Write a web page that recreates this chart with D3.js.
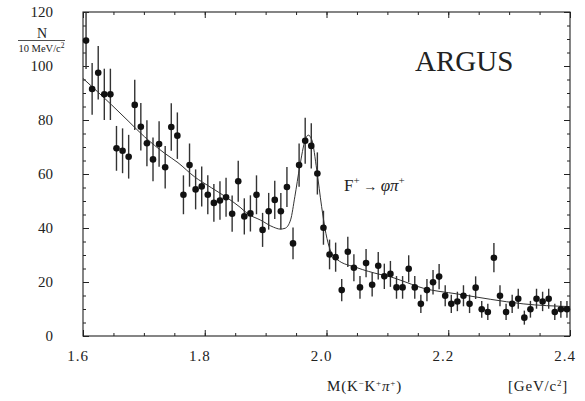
<!DOCTYPE html>
<html><head><meta charset="utf-8">
<script src="https://cdn.jsdelivr.net/npm/d3@7/dist/d3.min.js"></script>
<style>body{margin:0;background:#fff}svg{display:block}</style>
</head><body><svg id="c" width="585" height="401"></svg>
<script>
const mass = [1.605,1.615,1.625,1.635,1.645,1.655,1.665,1.675,1.685,1.695,
1.705,1.715,1.725,1.735,1.745,1.755,1.765,1.775,1.785,1.795,
1.805,1.815,1.825,1.835,1.845,1.855,1.865,1.875,1.885,1.895,
1.905,1.915,1.925,1.935,1.945,1.955,1.965,1.975,1.985,1.995,
2.005,2.015,2.025,2.035,2.045,2.055,2.065,2.075,2.085,2.095,
2.105,2.115,2.125,2.135,2.145,2.155,2.165,2.175,2.185,2.195,
2.205,2.215,2.225,2.235,2.245,2.255,2.265,2.275,2.285,2.295,
2.305,2.315,2.325,2.335,2.345,2.355,2.365,2.375,2.385,2.395];
const counts = [109.4,91.5,97.5,89.5,89.5,69.5,68.6,66.4,85.6,77.5,
71.4,65.4,71.1,62.5,77.4,74.2,52.3,63.3,54.3,55.4,
52.3,49.3,50.2,51.4,45.3,57.3,44.3,45.4,52.3,39.3,
46.2,50.4,46.2,55.2,34.3,63.3,72.3,70.4,60.2,40.1,
30.2,29.2,17.0,31.2,25.3,18.0,27.0,19.0,26.0,22.1,
23.0,18.0,18.0,24.9,18.0,11.9,17.0,19.9,22.0,14.9,
11.9,12.8,14.9,11.9,17.9,9.9,8.9,29.0,14.9,8.9,
11.9,13.8,6.8,9.9,13.8,12.8,13.8,8.9,9.9,9.9];
const errors = [10.5,9.6,9.9,9.5,9.5,8.3,8.3,8.1,9.3,8.8,
8.5,8.1,8.4,7.9,8.8,8.6,7.2,8.0,7.4,7.4,
7.2,7.0,7.1,7.2,6.7,7.6,6.7,6.7,7.2,6.3,
6.8,7.1,6.8,7.4,5.9,8.0,8.5,8.4,7.8,6.3,
5.5,5.4,4.1,5.6,5.0,4.2,5.2,4.4,5.1,4.7,
4.8,4.2,4.2,5.0,4.2,3.4,4.1,4.5,4.7,3.9,
3.4,3.6,3.9,3.4,4.2,3.1,3.0,5.4,3.9,3.0,
3.4,3.7,2.6,3.1,3.7,3.6,3.7,3.0,3.1,3.1];
const fitMass = [1.600,1.647,1.674,1.701,1.734,1.756,1.783,1.811,1.838,1.858,1.871,1.891,1.913,1.924,1.932,1.941,1.948,1.956,1.965,1.970,1.976,1.984,1.992,1.999,2.006,2.017,2.050,2.088,2.104,2.121,2.159,2.214,2.269,2.323,2.400];
const fitN    = [95.4,85.6,79.7,73.8,67.7,64.2,59.0,54.9,51.0,47.7,45.2,43.0,40.3,39.6,39.9,43.0,51.6,62.7,72.6,74.4,72.6,61.5,47.9,38.0,31.9,28.4,25.3,22.8,22.0,20.7,17.7,15.6,13.6,11.9,10.9];
const xTicks = [1.6,1.8,2.0,2.2,2.4];
const xTickLabels = ["1.6","1.8","2.0","2.2","2.4"];
const yTicks = [0,20,40,60,80,100,120];

const svg = d3.select("#c");
const L=83,R=570,T=12,B=336;
const x = d3.scaleLinear().domain([1.6,2.4]).range([L,R]);
const y = d3.scaleLinear().domain([0,120]).range([B,T]);
const ink="#222";
const serif="'Liberation Serif','DejaVu Serif',serif";

svg.append("rect").attr("x",L).attr("y",T).attr("width",R-L).attr("height",B-T)
  .attr("fill","none").attr("stroke",ink).attr("stroke-width",1.1);

const xMinor = d3.range(1.6,2.4001,0.05);
const yMinor = d3.range(0,120.001,5);
function addAxis(axis, tr){
  const g = svg.append("g").attr("transform",tr).call(axis);
  g.select(".domain").remove();
  g.selectAll("line").attr("stroke",ink).attr("stroke-width",1);
  g.selectAll("text").remove();
  return g;
}
addAxis(d3.axisTop(x).tickValues(xMinor).tickSize(3),`translate(0,${B})`);
addAxis(d3.axisTop(x).tickValues(xTicks).tickSize(6),`translate(0,${B})`);
addAxis(d3.axisBottom(x).tickValues(xMinor).tickSize(3),`translate(0,${T})`);
addAxis(d3.axisBottom(x).tickValues(xTicks).tickSize(6),`translate(0,${T})`);
addAxis(d3.axisRight(y).tickValues(yMinor).tickSize(3),`translate(${L},0)`);
addAxis(d3.axisRight(y).tickValues(yTicks).tickSize(6),`translate(${L},0)`);
addAxis(d3.axisLeft(y).tickValues(yMinor).tickSize(3),`translate(${R},0)`);
addAxis(d3.axisLeft(y).tickValues(yTicks).tickSize(6),`translate(${R},0)`);

svg.append("g").selectAll("text").data(xTicks).join("text")
  .attr("x",d=>x(d)-5).attr("y",361).attr("text-anchor","middle")
  .attr("font-family",serif).attr("font-size",15).attr("letter-spacing",1).attr("fill",ink)
  .text((d,i)=>xTickLabels[i]);
svg.append("g").selectAll("text").data(yTicks).join("text")
  .attr("x",53).attr("y",d=>y(d)+5).attr("text-anchor","end")
  .attr("font-family",serif).attr("font-size",15).attr("fill",ink)
  .text(d=>d);

svg.append("text").attr("x",42).attr("y",37.5).attr("text-anchor","middle")
  .attr("font-family",serif).attr("font-size",14).attr("fill",ink).text("N");
svg.append("line").attr("x1",18).attr("x2",65).attr("y1",40.5).attr("y2",40.5).attr("stroke",ink).attr("stroke-width",0.8);
svg.append("text").attr("x",41.5).attr("y",51.5).attr("text-anchor","middle")
  .attr("font-family",serif).attr("font-size",10.5).attr("fill",ink)
  .html('10 MeV/c<tspan dy="-4" font-size="7.5">2</tspan>');

svg.append("text").attr("x",327).attr("y",391).attr("font-family",serif).attr("font-size",15).attr("letter-spacing",0.8).attr("fill",ink)
  .html('M(K<tspan dy="-5" font-size="9">−</tspan><tspan dy="5">K</tspan><tspan dy="-5" font-size="9">+</tspan><tspan dy="5" font-style="italic">π</tspan><tspan dy="-5" font-size="9">+</tspan><tspan dy="5">)</tspan>');
svg.append("text").attr("x",508).attr("y",391).attr("font-family",serif).attr("font-size",15).attr("letter-spacing",0.8).attr("fill",ink)
  .html('[GeV/c<tspan dy="-5" font-size="9">2</tspan><tspan dy="5">]</tspan>');

svg.append("text").attr("x",415).attr("y",71).attr("font-family",serif).attr("font-size",29).attr("fill",ink).text("ARGUS");
svg.append("text").attr("x",344).attr("y",191).attr("font-family",serif).attr("font-size",17).attr("fill",ink)
  .html('F<tspan dy="-7" font-size="11">+</tspan><tspan dy="7" font-size="14"> → </tspan><tspan font-style="italic">φπ</tspan><tspan dy="-7" font-size="11">+</tspan>');

const line = d3.line().x((d,i)=>x(fitMass[i])).y((d,i)=>y(fitN[i])).curve(d3.curveMonotoneX);
svg.append("path").attr("d",line(fitMass)).attr("fill","none").attr("stroke","#333").attr("stroke-width",1);

const pts = mass.map((m,i)=>({m,n:counts[i],e:errors[i]}));
svg.append("g").selectAll("line").data(pts).join("line")
  .attr("x1",d=>x(d.m)).attr("x2",d=>x(d.m))
  .attr("y1",d=>Math.max(T,y(d.n+d.e))).attr("y2",d=>y(d.n-d.e))
  .attr("stroke","#333").attr("stroke-width",1.4);
svg.append("g").selectAll("circle").data(pts).join("circle")
  .attr("cx",d=>x(d.m)).attr("cy",d=>y(d.n)).attr("r",3.3).attr("fill","#111");
</script></body></html>
